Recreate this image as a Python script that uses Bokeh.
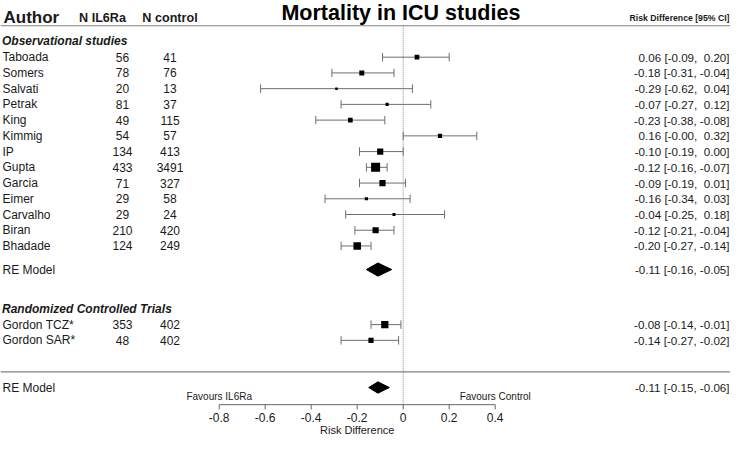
from bokeh.plotting import figure
from bokeh.models import Range1d, ColumnDataSource
from bokeh.core.properties import value
from bokeh.embed import file_html
from bokeh.resources import INLINE

# ---------------- data ----------------
authors_obs = ["Taboada", "Somers", "Salvati", "Petrak", "King", "Kimmig", "IP",
               "Gupta", "Garcia", "Eimer", "Carvalho", "Biran", "Bhadade"]
n_il6_obs = [56, 78, 20, 81, 49, 54, 134, 433, 71, 29, 29, 210, 124]
n_ctrl_obs = [41, 76, 13, 37, 115, 57, 413, 3491, 327, 58, 24, 420, 249]
rd_obs = [0.06, -0.18, -0.29, -0.07, -0.23, 0.16, -0.10, -0.12, -0.09, -0.16, -0.04, -0.12, -0.20]
lo_obs = [-0.09, -0.31, -0.62, -0.27, -0.38, -0.00, -0.19, -0.16, -0.19, -0.34, -0.25, -0.21, -0.27]
hi_obs = [0.20, -0.04, 0.04, 0.12, -0.08, 0.32, 0.00, -0.07, 0.01, 0.03, 0.18, -0.04, -0.14]
weight_obs = [4.7, 5, 2.5, 3.2, 4.7, 4.2, 6.2, 9, 6.2, 3.2, 3, 6.2, 7.5]

authors_rct = ["Gordon TCZ*", "Gordon SAR*"]
n_il6_rct = [353, 48]
n_ctrl_rct = [402, 402]
rd_rct = [-0.08, -0.14]
lo_rct = [-0.14, -0.27]
hi_rct = [-0.01, -0.02]
weight_rct = [7.3, 5.2]

re_obs = [-0.11, -0.16, -0.05]   # estimate, lower, upper
re_all = [-0.11, -0.15, -0.06]

tick_vals = [-0.8, -0.6, -0.4, -0.2, 0, 0.2, 0.4]

# ---------------- layout ----------------
W, H = 730, 435
PX_PER_UNIT = 230.0
ROW_PX = 15.73
ZERO_X = 402.7      # canvas px of x = 0
ROW0_Y = 56.7       # canvas px of first study row

x0 = -ZERO_X / PX_PER_UNIT
x1 = x0 + W / PX_PER_UNIT
r_top = -ROW0_Y / ROW_PX
r_bot = r_top + H / ROW_PX


def X(canvas_px):
    return x0 + canvas_px / PX_PER_UNIT


FONT = value("Liberation Sans")
TXT = "#1a1a1a"

p = figure(width=W, height=H, x_range=Range1d(x0, x1), y_range=Range1d(r_bot, r_top),
           output_backend="svg", toolbar_location=None, min_border=0,
           x_axis_location=None, y_axis_location=None)
p.grid.visible = False
p.outline_line_color = None
p.background_fill_color = "white"
p.border_fill_color = "white"

# rows
rows_obs = list(range(len(authors_obs)))
row_re_obs = len(authors_obs) + 0.5
row_rct_head = len(authors_obs) + 3
rows_rct = [row_rct_head + 1 + i for i in range(len(authors_rct))]
row_sep = rows_rct[-1] + 2
row_re_all = row_sep + 1
row_axis = row_re_all + 1.09
row_fav = row_re_all + 0.57
row_ticklab = row_axis + 0.83
row_xlab = row_axis + 1.61

authors = authors_obs + authors_rct
n_il6 = n_il6_obs + n_il6_rct
n_ctrl = n_ctrl_obs + n_ctrl_rct
rd = rd_obs + rd_rct
lo = lo_obs + lo_rct
hi = hi_obs + hi_rct
wts = weight_obs + weight_rct
rows = rows_obs + rows_rct


def pad(v):
    return f"{v:5.2f}".replace(" ", "\u00a0")


def ci_text(e, l, u):
    return f"{e:.2f} [{pad(l)}, {pad(u)}]"


XA, XN1, XN2, XR = X(2), X(122), X(169.5), X(729)

src = ColumnDataSource(dict(
    author=authors, n1=[str(v) for v in n_il6], n2=[str(v) for v in n_ctrl],
    rd=rd, lo=lo, hi=hi, row=rows, size=wts,
    lab=[ci_text(e, l, u) for e, l, u in zip(rd, lo, hi)],
    xa=[XA] * len(rows), xn1=[XN1] * len(rows), xn2=[XN2] * len(rows),
    xr=[XR] * len(rows),
    cap_lo=[r - 0.27 for r in rows], cap_hi=[r + 0.27 for r in rows],
))

# separators and reference line
p.segment(x0=[x0, x0], x1=[x1, x1], y0=[-2, row_sep], y1=[-2, row_sep],
          line_color="#808080", line_width=1.2)
p.segment(x0=[0], x1=[0], y0=[-2], y1=[row_axis], line_color="#8a8a8a",
          line_width=1, line_dash="1 1")

# confidence intervals
CI_COL = "#6e6e6e"
p.segment(x0="lo", x1="hi", y0="row", y1="row", source=src, line_color=CI_COL, line_width=1)
p.segment(x0="lo", x1="lo", y0="cap_lo", y1="cap_hi", source=src, line_color=CI_COL, line_width=1)
p.segment(x0="hi", x1="hi", y0="cap_lo", y1="cap_hi", source=src, line_color=CI_COL, line_width=1)
p.scatter(x="rd", y="row", size="size", marker="square", source=src,
          fill_color="black", line_color="black", line_width=0)


# summary diamonds
def diamond(est, r, half):
    e, l, u = est
    return [l, e, u, e], [r, r - half, r, r + half]


dx1, dy1 = diamond(re_obs, row_re_obs, 0.42)
dx2, dy2 = diamond(re_all, row_re_all, 0.36)
p.patches(xs=[dx1, dx2], ys=[dy1, dy2], fill_color="black", line_color="black")

# row texts
p.text(x="xa", y="row", text="author", source=src, text_font=FONT, text_font_size="12px",
       text_align="left", text_baseline="middle", text_color=TXT)
p.text(x="xn1", y="row", text="n1", source=src, text_font=FONT, text_font_size="12px",
       text_align="center", text_baseline="middle", text_color=TXT)
p.text(x="xn2", y="row", text="n2", source=src, text_font=FONT, text_font_size="12px",
       text_align="center", text_baseline="middle", text_color=TXT)
p.text(x="xr", y="row", text="lab", source=src, text_font=FONT, text_font_size="11.6px",
       text_align="right", text_baseline="middle", text_color=TXT)

# RE model rows
p.text(x=[XA, XA], y=[row_re_obs, row_re_all], text=["RE Model", "RE Model"],
       text_font=FONT, text_font_size="12px", text_align="left", text_baseline="middle",
       text_color=TXT)
p.text(x=[XR, XR], y=[row_re_obs, row_re_all],
       text=[ci_text(*re_obs), ci_text(*re_all)],
       text_font=FONT, text_font_size="11.6px", text_align="right", text_baseline="middle",
       text_color=TXT)

# group headers
p.text(x=[X(1.5), X(1.5)], y=[-1, row_rct_head],
       text=["Observational studies", "Randomized Controlled Trials"],
       text_font=FONT, text_font_size="12px", text_font_style="bold italic",
       text_align="left", text_baseline="middle", text_color=TXT)

# column headers
p.text(x=[X(3)], y=[-2.5], text=["Author"], text_font=FONT, text_font_size="17px",
       text_font_style="bold", text_align="left", text_baseline="middle", text_color=TXT)
p.text(x=[X(102), X(169.5)], y=[-2.5, -2.5], text=["N IL6Ra", "N control"], text_font=FONT,
       text_font_size="12.6px", text_font_style="bold", text_align="center",
       text_baseline="middle", text_color=TXT)
p.text(x=[XR], y=[-2.5], text=["Risk Difference [95% CI]"], text_font=FONT,
       text_font_size="8.7px", text_font_style="bold", text_align="right",
       text_baseline="middle", text_color=TXT)
p.text(x=[-0.01], y=[-2.82], text=["Mortality in ICU studies"], text_font=FONT,
       text_font_size="21.5px", text_font_style="bold", text_align="center",
       text_baseline="middle", text_color="black")

# x axis drawn from tick values
AX_COL = "#666666"
p.segment(x0=[tick_vals[0]], x1=[tick_vals[-1]], y0=[row_axis], y1=[row_axis],
          line_color=AX_COL, line_width=1)
p.segment(x0=tick_vals, x1=tick_vals, y0=[row_axis] * len(tick_vals),
          y1=[row_axis + 0.3] * len(tick_vals), line_color=AX_COL, line_width=1)
tick_labels = [("0" if v == 0 else f"{v:.1f}") for v in tick_vals]
p.text(x=tick_vals, y=[row_ticklab] * len(tick_vals), text=tick_labels, text_font=FONT,
       text_font_size="12px", text_align="center", text_baseline="middle", text_color=TXT)
p.text(x=[(tick_vals[0] + tick_vals[-1]) / 2], y=[row_xlab], text=["Risk Difference"],
       text_font=FONT, text_font_size="11px", text_align="center", text_baseline="middle",
       text_color=TXT)
p.text(x=[tick_vals[0], tick_vals[-1]], y=[row_fav, row_fav],
       text=["Favours IL6Ra", "Favours Control"], text_font=FONT, text_font_size="10px",
       text_align="center", text_baseline="middle", text_color=TXT)

open("out.html", "w").write(file_html(p, INLINE))
